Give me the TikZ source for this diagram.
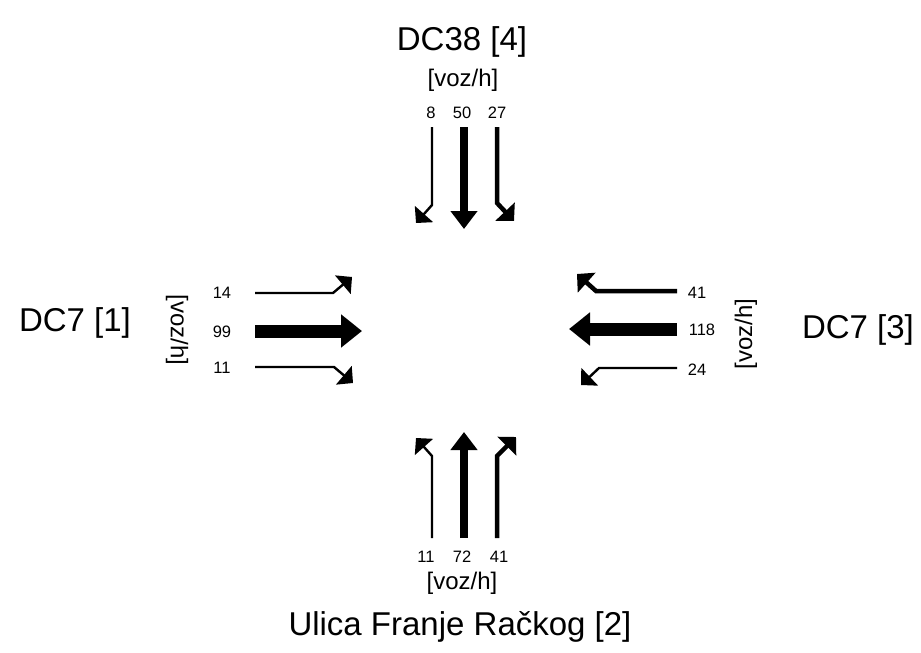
\documentclass[tikz,border=0pt]{standalone}
\usepackage{fontspec}
\setmainfont{Liberation Sans}
\usetikzlibrary{arrows.meta}
\begin{document}
\begin{tikzpicture}[x=1pt,y=-1pt,
  big/.style={font=\fontsize{33}{38}\selectfont, inner sep=0pt},
  unit/.style={font=\fontsize{24}{28}\selectfont, inner sep=0pt},
  num/.style={font=\fontsize{16.5}{19}\selectfont, inner sep=0pt},
  thinarr/.style={line width=2.4pt, -{Triangle[length=12pt,width=24pt]}},
  medarr/.style={line width=4.5pt, -{Triangle[length=13pt,width=26pt]}},
  thickarr/.style={line width=8.5pt, -{Triangle[length=18pt,width=26pt]}},
  heavyarr/.style={line width=13pt, -{Triangle[length=21pt,width=32pt]}}]
\useasboundingbox (0,0) rectangle (921,653);
% titles
\node[big] (t4) at (462,42) {DC38 [4]};
\node[big] (t1) at (75,323) {DC7 [1]};
\node[big] (t3) at (858,330) {DC7 [3]};
\node[big] (t2) at (460,627) {Ulica Franje Račkog [2]};
% units
\node[unit] (u4) at (463,80) {[voz/h]};
\node[unit] (u2) at (462,583) {[voz/h]};
\node[unit, rotate=-90] (u1) at (177,330) {[voz/h]};
\node[unit, rotate=90] (u3) at (746,334) {[voz/h]};
% numbers
\node[num] (n48) at (431,113) {8};
\node[num] (n450) at (462,113) {50};
\node[num] (n427) at (497,113) {27};
\node[num] (n114) at (222,293) {14};
\node[num] (n199) at (222,332) {99};
\node[num] (n111) at (222,368) {11};
\node[num] (n341) at (697,293) {41};
\node[num] (n3118) at (702,330) {118};
\node[num] (n324) at (697,370) {24};
\node[num] (n211) at (426,557) {11};
\node[num] (n272) at (462,557) {72};
\node[num] (n241) at (499,557) {41};
% top arrows
\coordinate (a4l0) at (432,127); \coordinate (a4l1) at (432,205); \coordinate (a4l2) at (416,223);
\coordinate (a4m0) at (464,127); \coordinate (a4m1) at (464,229);
\coordinate (a4r0) at (497,127); \coordinate (a4r1) at (497,203); \coordinate (a4r2) at (514,221);
\draw[thinarr] (a4l0) -- (a4l1) -- (a4l2);
\draw[thickarr] (a4m0) -- (a4m1);
\draw[medarr] (a4r0) -- (a4r1) -- (a4r2);
% left arrows
\coordinate (a1t0) at (255,293); \coordinate (a1t1) at (333,293); \coordinate (a1t2) at (352,277);
\coordinate (a1m0) at (255,331); \coordinate (a1m1) at (362,331);
\coordinate (a1b0) at (255,367); \coordinate (a1b1) at (334,367); \coordinate (a1b2) at (353,383);
\draw[thinarr] (a1t0) -- (a1t1) -- (a1t2);
\draw[heavyarr] (a1m0) -- (a1m1);
\draw[thinarr] (a1b0) -- (a1b1) -- (a1b2);
% right arrows
\coordinate (a3t0) at (677,291); \coordinate (a3t1) at (596,291); \coordinate (a3t2) at (577,274);
\coordinate (a3m0) at (677,329); \coordinate (a3m1) at (569,329);
\coordinate (a3b0) at (677,368); \coordinate (a3b1) at (599,368); \coordinate (a3b2) at (581,385);
\draw[medarr] (a3t0) -- (a3t1) -- (a3t2);
\draw[heavyarr] (a3m0) -- (a3m1);
\draw[thinarr] (a3b0) -- (a3b1) -- (a3b2);
% bottom arrows
\coordinate (a2l0) at (432,538); \coordinate (a2l1) at (432,456); \coordinate (a2l2) at (416,438);
\coordinate (a2m0) at (464,538); \coordinate (a2m1) at (464,432);
\coordinate (a2r0) at (497,538); \coordinate (a2r1) at (497,456); \coordinate (a2r2) at (516,437);
\draw[thinarr] (a2l0) -- (a2l1) -- (a2l2);
\draw[thickarr] (a2m0) -- (a2m1);
\draw[medarr] (a2r0) -- (a2r1) -- (a2r2);
\end{tikzpicture}
\end{document}
